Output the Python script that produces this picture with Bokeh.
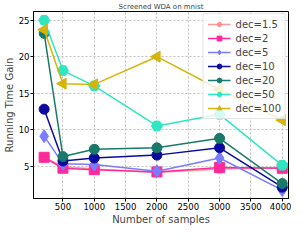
import math
from bokeh.plotting import figure
from bokeh.models import Range1d, Legend, LegendItem, FixedTicker
from bokeh.embed import file_html
from bokeh.resources import INLINE

samples = [200, 500, 1000, 2000, 3000, 4000]
dec_1_5 = [6.2, 4.9, 4.6, 4.1, 4.6, 4.8]
dec_2 = [6.2, 4.7, 4.5, 4.2, 4.8, 4.7]
dec_5 = [9.1, 5.3, 5.2, 4.3, 6.1, 1.7]
dec_10 = [12.8, 5.7, 6.1, 6.5, 7.5, 2.1]
dec_20 = [23.2, 6.3, 7.3, 7.5, 8.8, 2.6]
dec_50 = [25.0, 18.1, 16.0, 10.5, 12.1, 5.1]
dec_100 = [23.7, 16.3, 16.2, 20.0, 15.5, 11.3]

labels = ["dec=1.5", "dec=2", "dec=5", "dec=10", "dec=20", "dec=50", "dec=100"]
series = [dec_1_5, dec_2, dec_5, dec_10, dec_20, dec_50, dec_100]
colors = ["#f88a88", "#ff2a9a", "#7b7bff", "#0a0a9e", "#1a7a6a", "#2ee6c2", "#d6b40a"]
markers = ["hex", "square", "diamond", "circle", "circle", "hex", "triangle"]
sizes = [10, 10, 13, 10, 10, 11, 11]
angles = [0, 0, 0, 0, 0, 0, math.pi / 2]
alphas = [0.85, 1, 1, 1, 1, 1, 1]

FONT = "DejaVu Sans"

p = figure(width=291, height=227, output_backend="svg", toolbar_location=None,
           x_range=Range1d(30, 4100), y_range=Range1d(0.55, 26.2),
           min_border_left=0, min_border_right=3, min_border_top=0, min_border_bottom=0)
p.title.text = "Screened WDA on mnist"
p.title.align = "center"
p.title.text_font = FONT
p.title.text_font_size = "7px"
p.title.text_font_style = "normal"
p.title.offset = 0
p.title.standoff = 1

p.outline_line_color = "black"
p.outline_line_width = 1

for ax in (p.xaxis, p.yaxis):
    ax.minor_tick_line_color = None
    ax.major_tick_in = 0
    ax.major_tick_out = 3
    ax.major_label_text_font = FONT
    ax.major_label_text_font_size = "8.5px"
    ax.major_label_text_color = "black"
    ax.axis_label_text_font = FONT
    ax.axis_label_text_font_size = "10px"
    ax.axis_label_text_font_style = "normal"
    ax.axis_line_color = "black"
    ax.major_label_standoff = 1
    ax.axis_label_standoff = 1

p.xaxis.ticker = FixedTicker(ticks=[500, 1000, 1500, 2000, 2500, 3000, 3500, 4000])
p.yaxis.ticker = FixedTicker(ticks=[5, 10, 15, 20, 25])
p.xaxis.axis_label = "Number of samples"
p.yaxis.axis_label = "Running Time Gain"

p.grid.grid_line_color = "#b0b0b0"
p.grid.grid_line_dash = "2 2"
p.grid.grid_line_width = 0.8

items = []
for lab, ys, c, m, s, a, al in zip(labels, series, colors, markers, sizes, angles, alphas):
    r1 = p.line(samples, ys, line_color=c, line_width=1.5, line_alpha=al)
    r2 = p.scatter(samples, ys, marker=m, size=s, fill_color=c, line_color=c,
                   angle=a, fill_alpha=al, line_alpha=al)
    items.append(LegendItem(label=lab, renderers=[r1, r2]))

legend = Legend(items=items, location="top_right")
legend.label_text_font = FONT
legend.label_text_font_size = "10px"
legend.glyph_width = 23
legend.glyph_height = 12
legend.label_height = 12
legend.spacing = 2
legend.padding = 4
legend.margin = 2
legend.label_standoff = 5
legend.border_line_color = "#cccccc"
legend.background_fill_alpha = 0.8
p.add_layout(legend)

open("out.html", "w").write(file_html(p, INLINE))
